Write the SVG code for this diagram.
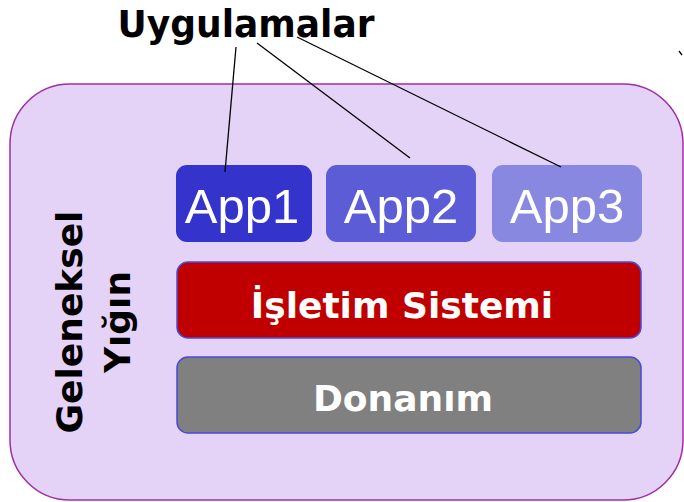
<svg xmlns="http://www.w3.org/2000/svg" width="684" height="502" viewBox="0 0 684 502">
<style>
.app{font-family:"Liberation Sans",Arial,sans-serif;font-size:49px;fill:#ffffff;text-anchor:middle}
.bold{font-family:"DejaVu Sans",Verdana,sans-serif;font-weight:bold;text-anchor:middle}
.lbl{fill:#ffffff;font-size:36px}
.conn{stroke:#000000;stroke-width:1.3;fill:none}
</style>
<rect width="684" height="502" fill="#ffffff"/>
<g id="stack">
<rect x="10" y="84" width="673" height="416" rx="60" ry="60" fill="#e4d3f6" stroke="#a02ca8" stroke-width="1.5"/>
<text class="bold" font-size="36" transform="translate(82,322) rotate(-90)">Geleneksel</text>
<text class="bold" font-size="36" transform="translate(130,322) rotate(-90)">Yığın</text>
</g>
<g id="title">
<text class="bold" x="246" y="37" font-size="37" textLength="257" lengthAdjust="spacingAndGlyphs" fill="#000000">Uygulamalar</text>
</g>
<g id="app1">
<rect x="176" y="165" width="136" height="77" rx="11" fill="#3434cc"/>
<text class="app" x="242" y="223">App1</text>
</g>
<g id="app2">
<rect x="326" y="165" width="150" height="77" rx="11" fill="#5c5cd6"/>
<text class="app" x="401" y="223">App2</text>
</g>
<g id="app3">
<rect x="492" y="165" width="150" height="77" rx="11" fill="#8888e0"/>
<text class="app" x="567" y="223">App3</text>
</g>
<g id="os">
<rect x="177" y="262" width="464" height="76" rx="11" fill="#c00000" stroke="#4a4ad8" stroke-width="1.5"/>
<text class="bold lbl" x="402" y="318">İşletim Sistemi</text>
</g>
<g id="hw">
<rect x="177" y="357" width="464" height="76" rx="11" fill="#808080" stroke="#4a4ad8" stroke-width="1.5"/>
<text class="bold lbl" x="403" y="411">Donanım</text>
</g>
<g id="connectors">
<line class="conn" x1="236" y1="47" x2="225" y2="172"/>
<line class="conn" x1="257" y1="43" x2="410" y2="158"/>
<line class="conn" x1="297" y1="37" x2="561" y2="167"/>
<line class="conn" x1="679" y1="51" x2="682" y2="55"/>
</g>
</svg>
